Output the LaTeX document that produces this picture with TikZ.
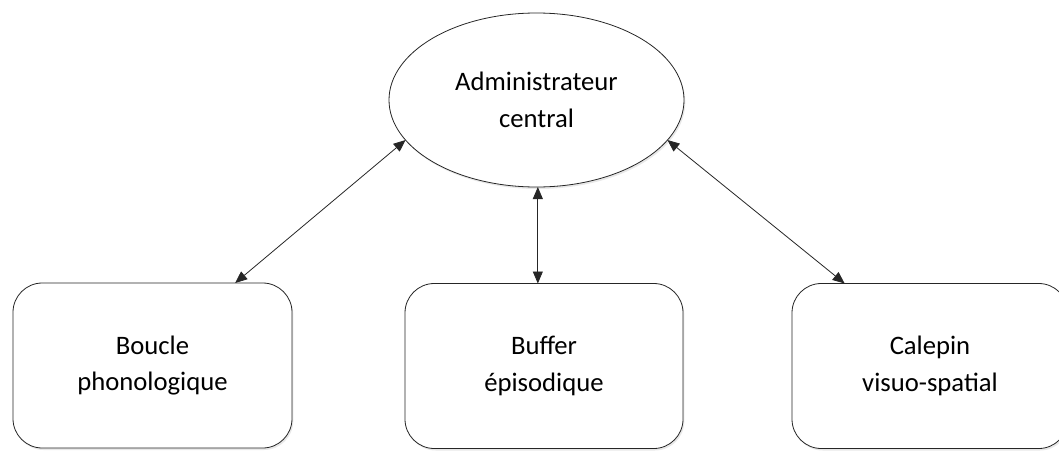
\documentclass[tikz,border=0pt]{standalone}
\usepackage{fontspec}
\setmainfont{Carlito}
\usepackage{tikz}
\usetikzlibrary{shapes.geometric}
\usetikzlibrary{arrows.meta}
\usetikzlibrary{positioning}
\usetikzlibrary{shadows}
\tikzset{
% Define standard arrow tip
>={Triangle[length=9pt, width=7.5pt]}
}

\begin{document}
\begin{tikzpicture}[x=0.75pt, y=-0.75pt, inner sep=0, outer sep=0,
  module/.style={rectangle, rounded corners=22pt, draw=black!85, line width=0.6pt,
    fill=white, align=center, minimum height=123.75pt,
    drop shadow={shadow xshift=1pt, shadow yshift=-1.5pt, opacity=0.18}},
  link/.style={<->, draw=black!85, line width=0.6pt}]
  \useasboundingbox (0,0) rectangle (1059,450);
  \fontsize{20}{27.5}\selectfont

  \node[ellipse, draw=black!85, line width=0.6pt, fill=white,
    align=center,
    minimum width = 221.25pt,
    minimum height = 130.5pt,
    drop shadow={shadow xshift=1pt, shadow yshift=-1.5pt, opacity=0.18}] (admin) at (536.5, 100) {Administrateur\\central};

  \node[module, minimum width=209.25pt] (boucle) at (152.5, 365.5) {Boucle\\phonologique};
  \node[module, minimum width=208.5pt] (buffer) at (544, 366) {Buffer\\épisodique};
  \node[module, minimum width=207pt] (calepin) at (930, 366) {Calepin\\visuo-spatial};

  \coordinate (bport) at ([xshift=62pt]boucle.north);
  \coordinate (cport) at ([xshift=-64pt]calepin.north);

  \draw[link] (admin.197) -- (bport);
  \draw[link] ([xshift=1pt]admin.south) -- ([xshift=1pt]admin.south |- buffer.north);
  \draw[link] (admin.343) -- (cport);
\end{tikzpicture}
\end{document}
